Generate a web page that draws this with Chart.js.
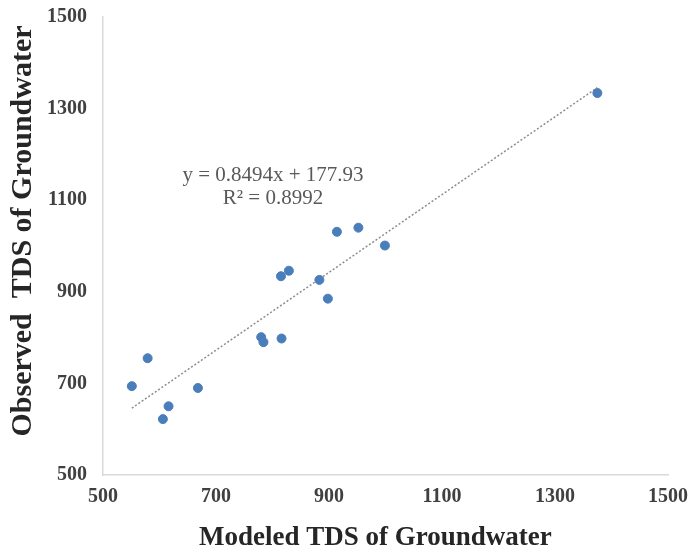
<!DOCTYPE html>
<html>
<head>
<meta charset="utf-8">
<script src="https://cdn.jsdelivr.net/npm/chart.js@4"></script>
<style>
  html, body { margin: 0; padding: 0; background: #fff; }
  #wrap { width: 691px; height: 554px; }
</style>
</head>
<body>
<div id="wrap"><canvas id="chart-tds" width="691" height="554"></canvas></div>
<script>
// ── Data ──────────────────────────────────────────────────────
const modeledTDS  = [551, 579, 606, 616, 668, 780, 784, 816, 815, 829, 883, 898, 914, 952, 999, 1375];
const observedTDS = [694, 755, 622, 650, 690, 801, 790, 798, 934, 946, 926, 885, 1031, 1040, 1001, 1334];
const xTicks = [500, 700, 900, 1100, 1300, 1500];
const yTicks = [500, 700, 900, 1100, 1300, 1500];

// Trendline (persamaan dari gambar)
const slope     = 0.8494;
const intercept = 177.93;
const rSquared  = 0.8992;

const points = modeledTDS.map((x, i) => ({ x, y: observedTDS[i] }));
const xMin = Math.min(...modeledTDS), xMax = Math.max(...modeledTDS);
const trend = [xMin, xMax].map(x => ({ x, y: slope * x + intercept }));

const SERIF = '"Liberation Serif", "Times New Roman", serif';

// Label persamaan di atas garis tren
const eqLabel = {
  id: 'eqLabel',
  afterDatasetsDraw(chart) {
    const { ctx, chartArea } = chart;
    const cx = chartArea.left + 170;
    ctx.save();
    ctx.fillStyle = '#595959';
    ctx.font = '21px ' + SERIF;
    ctx.textAlign = 'center';
    ctx.textBaseline = 'middle';
    ctx.fillText('y = ' + slope + 'x + ' + intercept, cx, 175);
    ctx.fillText('R\u00B2 = ' + rSquared, cx, 198);
    ctx.restore();
  }
};

new Chart(document.getElementById('chart-tds'), {
  type: 'scatter',
  data: {
    datasets: [
      {
        label: 'TDS',
        data: points,
        backgroundColor: '#4A7EBB',
        borderColor: '#4A7EBB',
        pointRadius: 4.5,
        pointHoverRadius: 4.5,
        order: 1
      },
      {
        label: 'Trend',
        type: 'line',
        data: trend,
        borderColor: '#8C8C8C',
        borderWidth: 1.5,
        borderDash: [2, 2],
        pointRadius: 0,
        fill: false,
        order: 2
      }
    ]
  },
  options: {
    responsive: false,
    animation: false,
    layout: { padding: { left: 0, right: 23, top: 17, bottom: 0 } },
    plugins: { legend: { display: false }, tooltip: { enabled: false } },
    scales: {
      x: {
        type: 'linear',
        min: 500, max: 1500,
        afterBuildTicks: s => { s.ticks = xTicks.map(v => ({ value: v })); },
        afterFit: s => { s.height = 79; s.paddingLeft = 0; s.paddingRight = 0; },
        grid: { display: false, drawTicks: false },
        border: { display: true, color: '#D9D9D9', width: 1.5 },
        ticks: {
          padding: 10,
          color: '#404040',
          font: { family: SERIF, size: 20, weight: 'bold' },
          callback: v => String(v)
        },
        title: {
          display: true,
          text: 'Modeled TDS of Groundwater   ',
          color: '#262626',
          font: { family: SERIF, size: 27, weight: 'bold', lineHeight: 1.2 },
          padding: { top: 0, bottom: 0 }
        }
      },
      y: {
        type: 'linear',
        min: 500, max: 1500,
        afterBuildTicks: s => { s.ticks = yTicks.map(v => ({ value: v })); },
        afterFit: s => { s.width = 103; s.paddingTop = 0; s.paddingBottom = 0; },
        grid: { display: false, drawTicks: false },
        border: { display: true, color: '#D9D9D9', width: 1.5 },
        ticks: {
          padding: 16,
          color: '#404040',
          font: { family: SERIF, size: 20, weight: 'bold' },
          callback: v => String(v)
        },
        title: {
          display: true,
          text: '    Observed  TDS of Groundwater',
          color: '#262626',
          font: { family: SERIF, size: 30, weight: 'bold', lineHeight: 1.2 },
          padding: { top: 5, bottom: 0 }
        }
      }
    }
  },
  plugins: [eqLabel]
});
</script>
</body>
</html>
